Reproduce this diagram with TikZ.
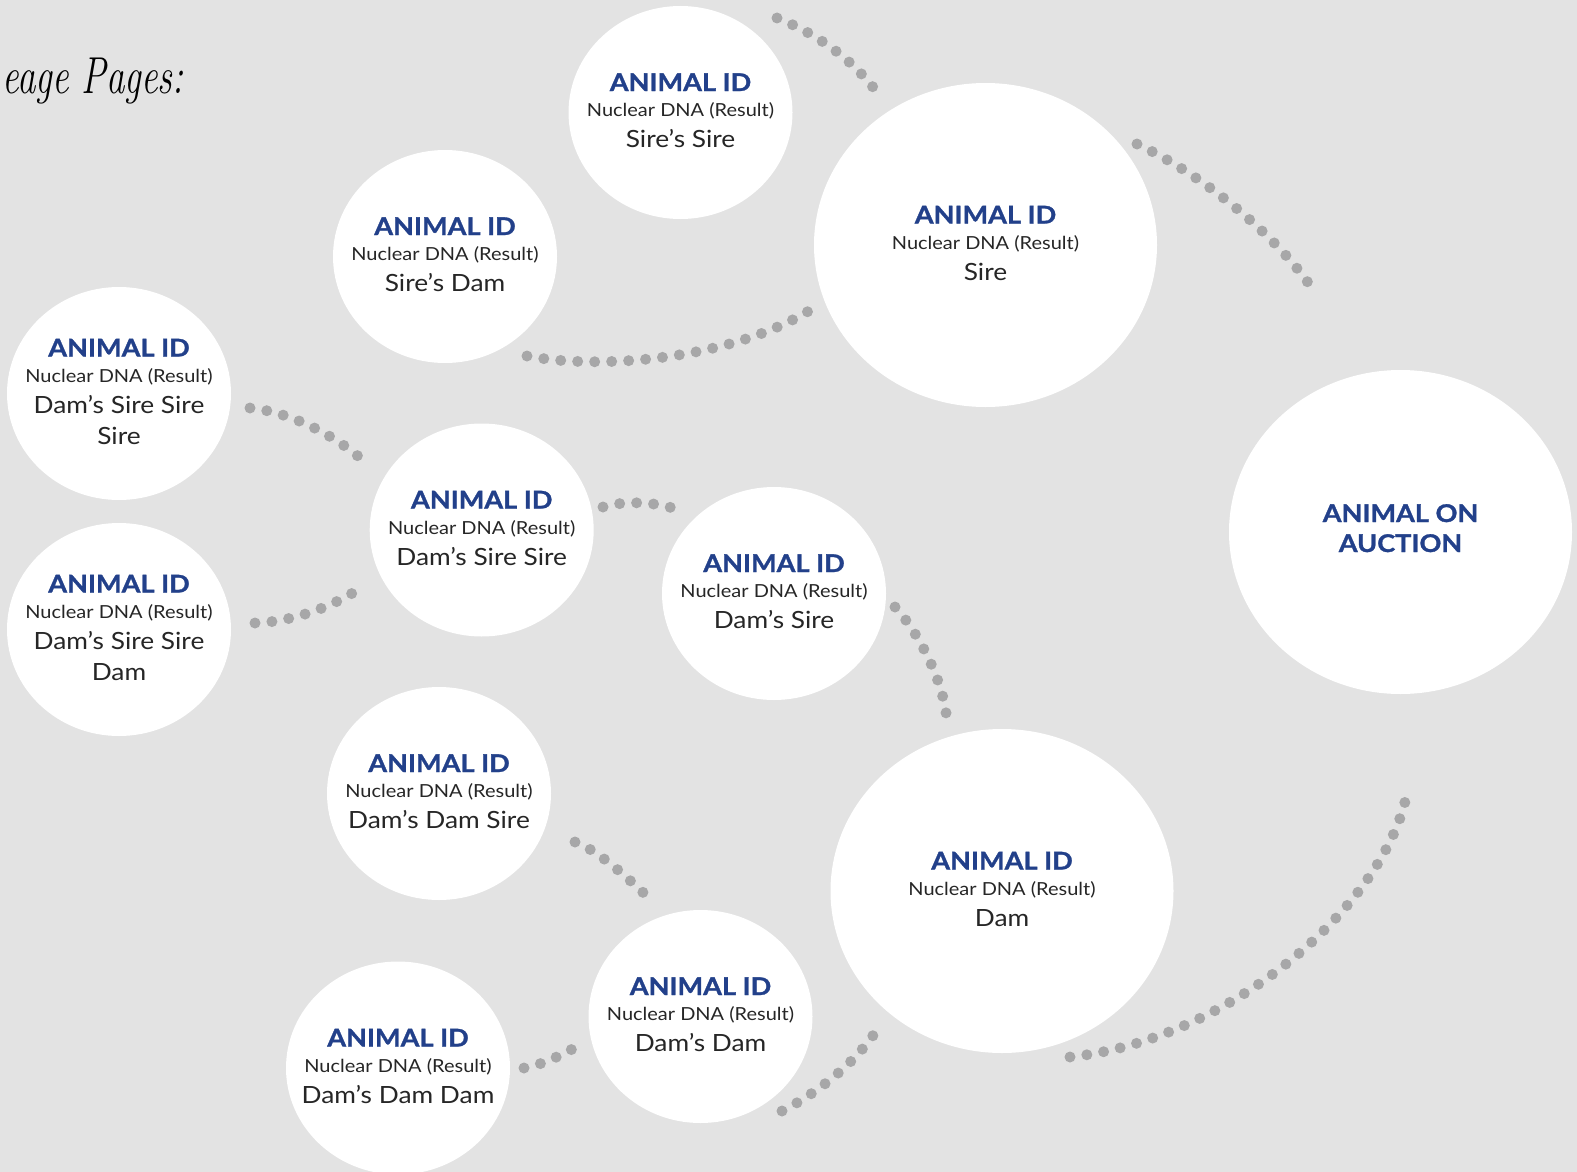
\documentclass[tikz,border=0pt]{standalone}
\usepackage{fontspec}
\usepackage{graphicx}
\usetikzlibrary{shapes.geometric}
\newfontfamily\lato{Lato}[FakeStretch=1.11, BoldFeatures={FakeBold=1.2}]
\definecolor{bg}{HTML}{E3E3E3}
\definecolor{navy}{HTML}{22408A}
\definecolor{ink}{HTML}{262626}
\definecolor{dotc}{HTML}{A7A7A8}
\newcommand\cardbox[1]{\makebox[0pt]{\vbox{\offinterlineskip\halign{\hfil##\hfil\cr#1}}}}
\newcommand\cardID{{\lato\bfseries\fontsize{24.4}{26}\selectfont\color{navy}\rule[-12pt]{0pt}{38pt}ANIMAL ID}\cr}
\newcommand\cardDNA{{\lato\fontsize{18}{20}\selectfont\color{ink}\rule[-12pt]{0pt}{24pt}Nuclear DNA (Result)}\cr}
\newcommand\cardName[1]{{\lato\fontsize{23.7}{26}\selectfont\color{ink}\rule[-12pt]{0pt}{31pt}#1}\cr}
\newcommand\aucA{{\lato\bfseries\fontsize{24.4}{26}\selectfont\color{navy}\rule[-12pt]{0pt}{34pt}ANIMAL ON}\cr}
\newcommand\aucB{{\lato\bfseries\fontsize{24.4}{26}\selectfont\color{navy}\rule[-12pt]{0pt}{30pt}AUCTION}\cr}
\begin{document}
\begin{tikzpicture}[x=1pt,y=-1pt,
  circ/.style={ellipse, fill=white, inner sep=0pt, minimum width=224pt, minimum height=213pt},
  bigc/.style={ellipse, fill=white, inner sep=0pt, minimum width=343pt, minimum height=324pt},
  dotline/.style={draw=dotc, line width=11pt, line cap=round, dash pattern=on 0pt off 17pt}]
\fill[bg] (0,0) rectangle (1577,1172);
\useasboundingbox (0,0) rectangle (1577,1172);

% title
\node[anchor=base west, inner sep=0pt, text=black] (title) at (2,93)
  {\scalebox{0.71}[1]{\fontsize{52}{56}\selectfont\itshape eage Pages:}};

% dotted connectors
\coordinate (a1) at (777,18);   \coordinate (a2) at (879,95);
\coordinate (b1) at (1137,144); \coordinate (b2) at (1309,284);
\coordinate (c1) at (527,356);  \coordinate (c2) at (812,309);
\coordinate (d1) at (250,408);  \coordinate (d2) at (366,463);
\coordinate (e1) at (255,623);  \coordinate (e2) at (359,589);
\coordinate (f1) at (603,507);  \coordinate (f2) at (681,511);
\coordinate (g1) at (895,607);  \coordinate (g2) at (947,723);
\coordinate (h1) at (575,842);  \coordinate (h2) at (651,900);
\coordinate (i1) at (524,1068); \coordinate (i2) at (576,1047);
\coordinate (j1) at (782,1111); \coordinate (j2) at (878,1028);
\coordinate (k1) at (1070,1057);\coordinate (k2) at (1407,793);

\draw[dotline] (a1) .. controls (815,33) and (852,58) .. (a2);
\draw[dotline] (b1) .. controls (1197,172) and (1269,228) .. (b2);
\draw[dotline] (c1) .. controls (600,370) and (730,360) .. (c2);
\draw[dotline] (d1) .. controls (290,412) and (335,435) .. (d2);
\draw[dotline] (e1) .. controls (290,622) and (330,608) .. (e2);
\draw[dotline] (f1) .. controls (625,500) and (660,502) .. (f2);
\draw[dotline] (g1) .. controls (915,628) and (945,680) .. (g2);
\draw[dotline] (h1) .. controls (598,850) and (630,880) .. (h2);
\draw[dotline] (i1) .. controls (541,1065) and (560,1056) .. (i2);
\draw[dotline] (j1) .. controls (812,1096) and (855,1065) .. (j2);
\draw[dotline] (k1) .. controls (1230,1040) and (1385,905) .. (k2);

% circles
\node[circ] (ss) at (680.5,112.5) {\cardbox{\cardID\cardDNA\cardName{Sire’s Sire}}};
\node[bigc] (sire) at (985.5,245) {\cardbox{\cardID\cardDNA\cardName{Sire}}};
\node[circ] (sd) at (445,256.5) {\cardbox{\cardID\cardDNA\cardName{Sire’s Dam}}};
\node[circ] (dsss) at (119,393.5) {\cardbox{\cardID\cardDNA\cardName{Dam’s Sire Sire}\cardName{Sire}}};
\node[circ] (dssd) at (119,629.5) {\cardbox{\cardID\cardDNA\cardName{Dam’s Sire Sire}\cardName{Dam}}};
\node[circ] (dss) at (481.7,530) {\cardbox{\cardID\cardDNA\cardName{Dam’s Sire Sire}}};
\node[circ] (ds) at (774,593.5) {\cardbox{\cardID\cardDNA\cardName{Dam’s Sire}}};
\node[bigc] (auc) at (1400.5,532) {\cardbox{\aucA\aucB}};
\node[circ] (dds) at (439,793.5) {\cardbox{\cardID\cardDNA\cardName{Dam’s Dam Sire}}};
\node[bigc] (dam) at (1002,891) {\cardbox{\cardID\cardDNA\cardName{Dam}}};
\node[circ] (dd) at (700.5,1016.5) {\cardbox{\cardID\cardDNA\cardName{Dam’s Dam}}};
\node[circ] (ddd) at (398,1068) {\cardbox{\cardID\cardDNA\cardName{Dam’s Dam Dam}}};
\end{tikzpicture}
\end{document}
